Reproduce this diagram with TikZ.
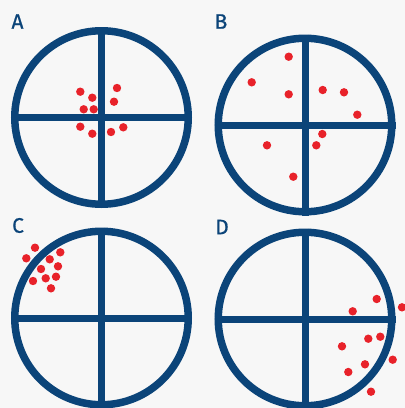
\documentclass[tikz,border=0pt]{standalone}
\usepackage{fontspec}
\setmainfont{Fira Sans}
\newfontfamily\tagfont{Fira Sans}[FakeBold=0.7]
\usetikzlibrary{positioning}
\definecolor{navy}{HTML}{0B4479}
\definecolor{shot}{HTML}{E8222A}
\definecolor{paper}{HTML}{F7F7F7}

\tikzset{
  target/.style={circle, draw=navy, line width=7.5pt, minimum size=173.5pt, inner sep=0pt},
  cross/.style={draw=navy, line width=7pt},
  hit/.style={fill=shot},
  tag/.style={text=navy, inner sep=0pt, font=\tagfont\fontsize{21}{21}\selectfont}
}

\begin{document}
\begin{tikzpicture}[x=1pt,y=-1pt]
    \fill[paper] (0,0) rectangle (405,408);
    \useasboundingbox (0,0) rectangle (405,408);

    % targets
    \node[target] (tA) at (101.5,117.5) {};
    \node[target] (tB) at (305,125) {};
    \node[target] (tC) at (101.5,318) {};
    \node[target] (tD) at (305,319) {};
    \foreach \t in {tA,tB,tC,tD} {
        \draw[cross] (\t.north) -- (\t.south);
        \draw[cross] (\t.west) -- (\t.east);
    }

    % labels
    \node[tag] (labA) at (17.5,21.5) {A};
    \node[tag] (labB) at (221,21.5) {B};
    \node[tag] (labC) at (18,225.5) {C};
    \node[tag] (labD) at (222,227) {D};

    % hits
    \foreach \p in {(80.3,91.7),(117,88),(92.3,97.7),(114,101.7),(83.7,109.3),
                    (93.7,109.3),(80.3,126.7),(92.3,133.7),(111,132),(123.3,127.3),
                    (288.7,56.7),(251.7,82.3),(288.7,94.3),(322.7,90),(344,92.3),
                    (357.3,114.7),(322.3,134),(316.3,145.3),(267,145.3),(293.3,176.7),
                    (35,247.7),(26.3,258.3),(60.3,252.3),(49.7,259.3),(58,266.3),
                    (41,269),(33,281),(45.7,278.3),(56,276.7),(51,288.3),
                    (376.7,299),(402,307.3),(352.7,311.3),(368.3,338.7),(380.3,336.7),
                    (342,346.3),(392.7,359.7),(365,364.3),(348.3,372),(371,391.7)}
        \fill[hit] \p circle[radius=4.2pt];
\end{tikzpicture}
\end{document}
